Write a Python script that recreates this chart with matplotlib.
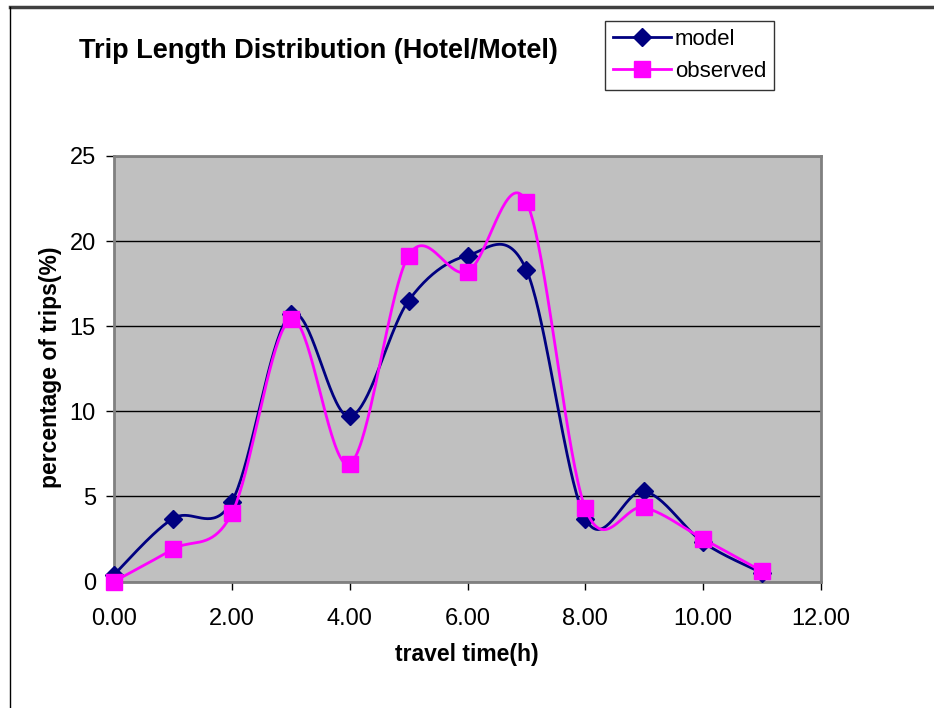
import numpy as np
import matplotlib.pyplot as plt
from matplotlib.lines import Line2D

plt.rcParams['font.family'] = ['Liberation Sans', 'DejaVu Sans']

# travel time (h)
hours = [0, 1, 2, 3, 4, 5, 6, 7, 8, 9, 10, 11]
# percentage of trips (%)
model = [0.4, 3.7, 4.7, 15.7, 9.7, 16.5, 19.15, 18.3, 3.7, 5.3, 2.3, 0.5]
observed = [0.0, 1.9, 4.0, 15.4, 6.9, 19.15, 18.2, 22.3, 4.3, 4.35, 2.5, 0.6]

x_ticks = [0, 2, 4, 6, 8, 10, 12]
y_ticks = [0, 5, 10, 15, 20, 25]


def smooth(xs, ys, n=40):
    # Excel-style smoothed line: cubic bezier through points, catmull-rom controls
    p = np.column_stack([xs, ys]).astype(float)
    p_ext = np.vstack([p[0], p, p[-1]])
    out = []
    t = np.linspace(0, 1, n)[:, None]
    for i in range(len(p) - 1):
        p0 = p_ext[i + 1]
        p3 = p_ext[i + 2]
        c1 = p0 + (p_ext[i + 2] - p_ext[i]) / 6
        c2 = p3 - (p_ext[i + 3] - p_ext[i + 1]) / 6
        seg = ((1 - t) ** 3) * p0 + 3 * ((1 - t) ** 2) * t * c1 \
            + 3 * (1 - t) * t ** 2 * c2 + t ** 3 * p3
        out.append(seg if i == 0 else seg[1:])
    out = np.vstack(out)
    return out[:, 0], out[:, 1]


fig = plt.figure(figsize=(9.34, 7.08), dpi=100)
ax = fig.add_axes([114 / 934, 1 - 581.5 / 708, (821 - 114) / 934, (581.5 - 156) / 708])
ax.set_facecolor('#C0C0C0')

mx, my = smooth(hours, model)
ox, oy = smooth(hours, observed)
ax.plot(mx, my, color='#000080', lw=2, zorder=3)
ax.plot(hours, model, ls='none', marker='D', ms=9.5, color='#000080', zorder=4)
ax.plot(ox, oy, color='#FF00FF', lw=2, zorder=5)
ax.plot(hours, observed, ls='none', marker='s', ms=11, color='#FF00FF', zorder=6)

ax.set_xlim(0, 12)
ax.set_ylim(0, 25)
ax.set_xticks(x_ticks)
ax.set_xticklabels([f'{v:.2f}' for v in x_ticks])
ax.set_yticks(y_ticks)
ax.yaxis.grid(True, color='black', lw=1)
ax.set_axisbelow(True)
for s in ax.spines.values():
    s.set_color('#808080')
    s.set_linewidth(2)
ax.tick_params(axis='both', direction='out', length=6, width=1, color='black',
               labelsize=17, pad=7)
ax.tick_params(axis='x', pad=13)
for line in ax.lines:
    line.set_clip_on(False)

fig.text(467 / 934, 1 - 655 / 708, 'travel time(h)', fontsize=16.5,
         fontweight='bold', ha='center', va='center')
fig.text(51 / 934, 1 - 367 / 708, 'percentage of trips(%)', fontsize=16.5,
         fontweight='bold', ha='center', va='center', rotation=90)

fig.text(318 / 934, 1 - 51 / 708, 'Trip Length Distribution (Hotel/Motel)',
         fontsize=19.5, fontweight='bold', ha='center', va='center')

handles = [
    Line2D([], [], color='#000080', lw=2, marker='D', ms=9.5),
    Line2D([], [], color='#FF00FF', lw=2, marker='s', ms=11),
]
leg = fig.legend(handles, ['model', 'observed'], loc='upper left',
                 bbox_to_anchor=(605 / 934, 1 - 21 / 708), fontsize=16,
                 frameon=True, fancybox=False, edgecolor='black',
                 borderaxespad=0, handlelength=2.6, handletextpad=0.2,
                 labelspacing=0.5, borderpad=0.35)
leg.get_frame().set_linewidth(1)

# outer chart frame (top and left edges visible)
fig.add_artist(Line2D([10 / 934, 1], [1 - 7 / 708, 1 - 7 / 708],
                      color='#404040', lw=2.5, transform=fig.transFigure))
fig.add_artist(Line2D([10 / 934, 10 / 934], [0, 1 - 7 / 708],
                      color='black', lw=1, transform=fig.transFigure))

fig.savefig('out.png', dpi=100)
